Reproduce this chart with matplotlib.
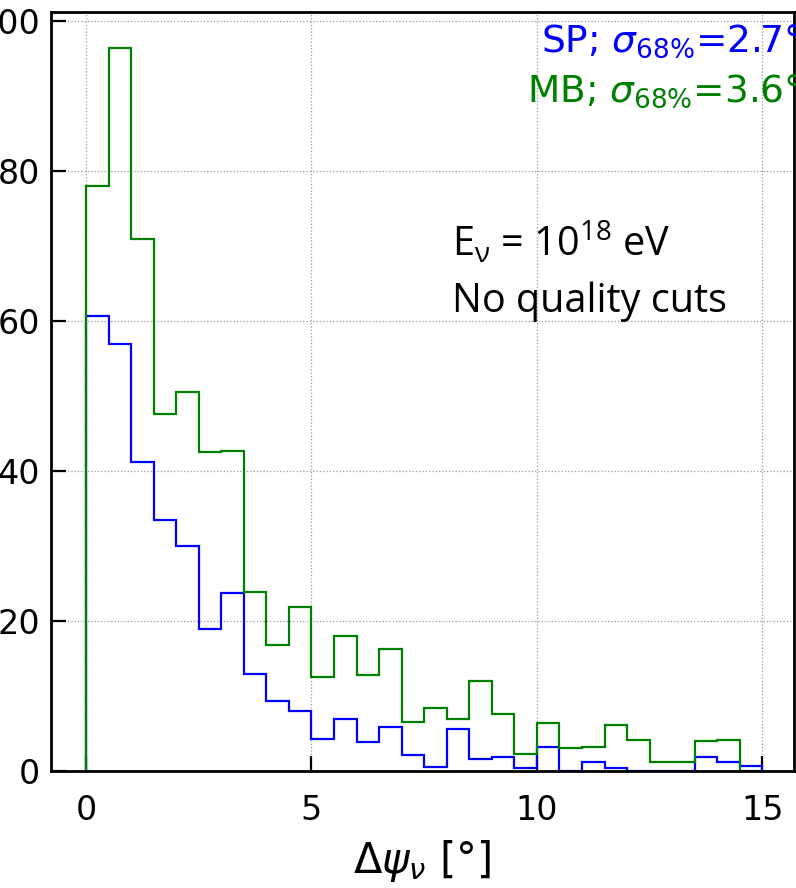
import numpy as np
import matplotlib
matplotlib.use("Agg")
import matplotlib.pyplot as plt

# Angular resolution histograms, 0.5 deg bins from 0 to 15 deg
bin_edges = np.arange(0, 15.5, 0.5)
sp_counts = [60.6, 56.85, 41.1, 33.4, 30.0, 18.85, 23.7, 12.9, 9.3, 7.96,
             4.18, 6.9, 3.74, 5.74, 2.1, 0.53, 5.56, 1.47, 1.78, 0.3,
             3.2, 0.0, 1.16, 0.4, 0.0, 0.0, 0.0, 1.78, 1.16, 0.62]
mb_counts = [78.0, 96.4, 70.85, 47.6, 50.45, 42.45, 42.6, 23.8, 16.8, 21.8,
             12.45, 17.9, 12.7, 16.2, 6.45, 8.3, 6.9, 11.87, 7.5, 2.18,
             6.3, 2.98, 3.16, 6.1, 4.05, 1.16, 1.16, 3.9, 4.1, 0.0]
sp_label = r"SP; $\sigma_{68\%}$=2.7°"
mb_label = r"MB; $\sigma_{68\%}$=3.6°"
x_ticks = [0, 5, 10, 15]
y_ticks = [0, 20, 40, 60, 80, 100]

W, H = 796, 888
fig = plt.figure(figsize=(W / 100, H / 100), dpi=100)
ax = fig.add_axes([50.8 / W, 1 - 770.5 / H, (794 - 50.8) / W, (770.5 - 11.7) / H])

centers = bin_edges[:-1] + 0.25
ax.hist(centers, bins=bin_edges, weights=sp_counts, histtype="step",
        color="blue", lw=1.6)
ax.hist(centers, bins=bin_edges, weights=mb_counts, histtype="step",
        color="green", lw=1.6)

ax.set_xlim(-0.78, 15.70)
ax.set_ylim(0, 101.2)
ax.set_xticks(x_ticks)
ax.set_yticks(y_ticks)
ax.grid(True, ls=":", color="gray", lw=0.9, alpha=0.8)
ax.set_axisbelow(True)

for s in ax.spines.values():
    s.set_linewidth(2.0)
ax.tick_params(axis="both", direction="in", length=11, width=1.6,
               labelsize=24)
ax.tick_params(axis="x", pad=17)
ax.tick_params(axis="y", pad=8)
ax.set_xlabel(r"$\Delta\psi_{\nu}$ [°]", fontsize=30, labelpad=8)

fig.text(801 / W, 1 - 51.7 / H, sp_label, color="blue", fontsize=27,
         ha="right", va="baseline")
fig.text(801 / W, 1 - 101.7 / H, mb_label, color="green", fontsize=27,
         ha="right", va="baseline")

fig.text(452 / W, 1 - 256.7 / H, r"E$_\mathregular{ν}$ = 10$^\mathregular{18}$ eV",
         fontsize=28.5, family="Open Sans", ha="left", va="baseline")
fig.text(452 / W, 1 - 311.7 / H, "No quality cuts",
         fontsize=28.5, family="Open Sans", ha="left", va="baseline")

fig.savefig("out.png", dpi=100)
